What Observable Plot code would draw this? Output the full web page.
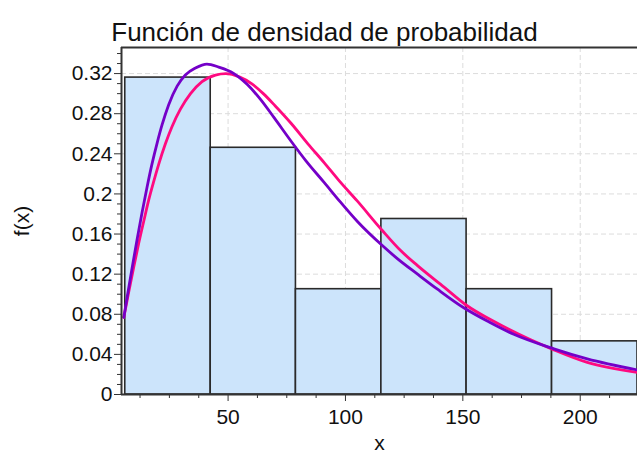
<!DOCTYPE html>
<html><head><meta charset="utf-8">
<script src="https://cdn.jsdelivr.net/npm/d3@7"></script>
<script src="https://cdn.jsdelivr.net/npm/@observablehq/plot@0.6"></script>
<style>body{margin:0;background:#fff} svg{display:block}</style>
</head><body><div id="chart"></div>
<script>
const title = "Función de densidad de probabilidad";
const xLabel = "x";
const yLabel = "f(x)";

const binEdges = [6.2, 42.6, 78.9, 115.3, 151.6, 188.0, 224.4];
const relFreq = [0.316, 0.246, 0.105, 0.175, 0.105, 0.053];

const purpleX = [5.6, 7.0, 9.1, 11.2, 13.4, 15.5, 17.6, 19.8, 21.9, 24.7, 28.3, 31.8, 36.1, 41.0, 46.0, 52.5, 58.2, 63.9, 69.6, 76.7, 83.0, 90.9, 98.0, 105.1, 115.7, 122.1, 130.7, 139.2, 150.4, 161.0, 171.7, 188.8, 203.0, 224.4];
const purpleY = [0.077, 0.097, 0.126, 0.154, 0.182, 0.207, 0.230, 0.251, 0.269, 0.289, 0.3075, 0.3185, 0.3255, 0.3295, 0.3265, 0.320, 0.309, 0.294, 0.276, 0.253, 0.2335, 0.2115, 0.1915, 0.1725, 0.1485, 0.1355, 0.120, 0.105, 0.0865, 0.0725, 0.060, 0.0455, 0.0355, 0.0245];

const pinkX = [5.6, 7.7, 9.8, 12.0, 14.1, 16.2, 18.4, 20.5, 23.3, 26.1, 29.7, 34.0, 38.9, 44.6, 49.0, 55.0, 60.0, 65.0, 70.0, 77.0, 84.0, 91.0, 97.0, 105.0, 115.7, 123.5, 130.7, 142.0, 151.2, 164.7, 178.9, 188.8, 203.0, 224.4];
const pinkY = [0.077, 0.1025, 0.127, 0.1515, 0.173, 0.194, 0.213, 0.230, 0.250, 0.267, 0.2845, 0.300, 0.312, 0.3185, 0.320, 0.3165, 0.310, 0.300, 0.288, 0.270, 0.250, 0.231, 0.214, 0.193, 0.1635, 0.1435, 0.1285, 0.107, 0.0895, 0.071, 0.0545, 0.0445, 0.032, 0.022];

const xMajorTicks = [50, 100, 150, 200];
const xMinorTicks = [12.5, 25, 37.5, 62.5, 75, 87.5, 112.5, 125, 137.5, 162.5, 175, 187.5, 212.5];
const yMajorTicks = [0, 0.04, 0.08, 0.12, 0.16, 0.2, 0.24, 0.28, 0.32];
const yMinorTicks = [0.01, 0.02, 0.03, 0.05, 0.06, 0.07, 0.09, 0.10, 0.11, 0.13, 0.14, 0.15, 0.17, 0.18, 0.19, 0.21, 0.22, 0.23, 0.25, 0.26, 0.27, 0.29, 0.30, 0.31, 0.33, 0.34];

const xDomain = [4.6, 224.4];
const yDomain = [0, 0.346];

const bins = relFreq.map((f, i) => ({x1: binEdges[i], x2: binEdges[i + 1], f}));
const purple = purpleX.map((x, i) => ({x, y: purpleY[i]}));
const pink = pinkX.map((x, i) => ({x, y: pinkY[i]}));

const axisColor = "#333";
const gridStyle = {stroke: "#dcdcdc", strokeOpacity: 1, strokeDasharray: "5,3", strokeWidth: 1};
const fmt = d3.format(".2~f");

const chart = Plot.plot({
  width: 637,
  height: 458,
  marginLeft: 121,
  marginRight: 0,
  marginTop: 47,
  marginBottom: 64,
  x: {domain: xDomain},
  y: {domain: yDomain},
  style: {fontFamily: "'Liberation Sans', Arial, sans-serif", background: "#fff", color: "#111"},
  marks: [
    Plot.gridX(xMajorTicks, gridStyle),
    Plot.gridY(yMajorTicks.filter(d => d > 0), gridStyle),
    Plot.rectY(bins, {x1: "x1", x2: "x2", y: "f", fill: "#cce4fb", stroke: "#2a2a2a", strokeWidth: 1.6}),
    Plot.line(pink, {x: "x", y: "y", stroke: "#ff0a80", strokeWidth: 2.8, curve: "monotone-x"}),
    Plot.line(purple, {x: "x", y: "y", stroke: "#7400c8", strokeWidth: 2.8, curve: "monotone-x"}),
    Plot.axisY(yMinorTicks, {tickSize: 4, tickFormat: () => "", stroke: axisColor, label: null}),
    Plot.axisY(yMajorTicks, {tickSize: 7, tickPadding: 2, fontSize: 21, tickFormat: fmt, stroke: axisColor, label: null}),
    Plot.axisX(xMinorTicks, {tickSize: 4, tickFormat: () => "", stroke: axisColor, label: null}),
    Plot.axisX(xMajorTicks, {tickSize: 7, tickPadding: 8, fontSize: 21, stroke: axisColor, label: null}),
    Plot.ruleY([yDomain[0]], {stroke: axisColor, strokeWidth: 2}),
    Plot.ruleY([yDomain[1]], {stroke: axisColor, strokeWidth: 2}),
    Plot.ruleX([xDomain[0]], {stroke: axisColor, strokeWidth: 2}),
    Plot.text([title], {text: d => d, frameAnchor: "top", dx: -55, dy: -25, fontSize: 26, fill: "#111"}),
    Plot.text([xLabel], {text: d => d, frameAnchor: "bottom", dy: 55, fontSize: 21, fill: "#111"}),
    Plot.text([yLabel], {text: d => d, frameAnchor: "left", textAnchor: "middle", dx: -99, dy: 0, rotate: -90, fontSize: 21, fill: "#111"})
  ]
});
document.getElementById("chart").append(chart);
</script>
</body></html>
